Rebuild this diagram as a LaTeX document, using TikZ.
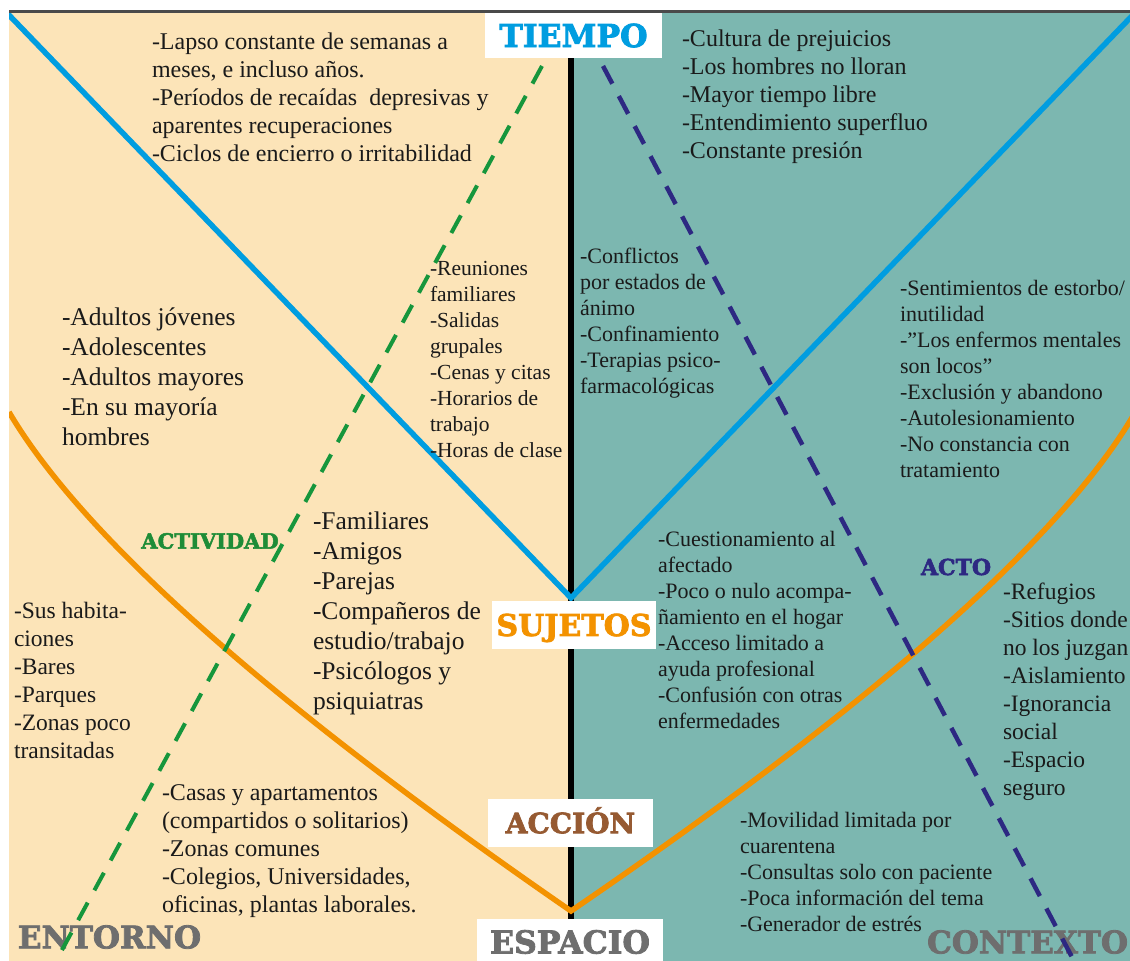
\documentclass[tikz,border=0pt]{standalone}
\usepackage{fontspec}
\setmainfont{Liberation Serif}
\newfontfamily\slabfont{DejaVuSerif-Bold}[Extension=.ttf, FakeBold=2.5]

\definecolor{sand}{HTML}{FCE4B8}
\definecolor{sea}{HTML}{7CB7B0}
\definecolor{skyline}{HTML}{009DE0}
\definecolor{amber}{HTML}{F39200}
\definecolor{leaf}{HTML}{16963C}
\definecolor{leaftxt}{HTML}{1E8C37}
\definecolor{ink}{HTML}{2D2882}
\definecolor{bark}{HTML}{965A32}
\definecolor{ash}{HTML}{6E6E6E}
\definecolor{rule}{HTML}{4A4A4A}
\definecolor{bodytxt}{HTML}{1A1A1A}

\tikzset{
  block/.style={anchor=north west, inner sep=0pt, outer sep=0pt, align=left, text=bodytxt},
  sizeL/.style={font=\fontsize{25.5}{30}\selectfont},
  sizeM/.style={font=\fontsize{24}{28}\selectfont},
  sizeN/.style={font=\fontsize{23.5}{28}\selectfont},
  sizeS/.style={font=\fontsize{22}{26}\selectfont},
  sizeT/.style={font=\fontsize{21.5}{26}\selectfont},
  lbl/.style 2 args={font=\slabfont\fontsize{#1}{#1}\selectfont,
    text height=#2pt, text depth=0pt, inner sep=0pt, outer sep=0pt},
  whitebox/.style 2 args={fill=white, minimum width=#1pt, minimum height=#2pt},
  axisline/.style={line width=5.5pt, black},
  vline/.style={line width=5.5pt, skyline, line join=miter},
  arcline/.style={line width=5.5pt, amber, line join=miter},
  dashline/.style={line width=#1, dash pattern=on 20pt off 14pt},
}

\begin{document}
\begin{tikzpicture}[x=1pt, y=-1pt]
\useasboundingbox (0,0) rectangle (1130,961);
\clip (0,0) rectangle (1130,961);

% two halves of the board
\fill[sand] (9,13) rectangle (571,961);
\fill[sea] (571,13) rectangle (1130,961);
\draw[line width=3pt, rule] (9,11.5) -- (1130,11.5);

\begin{scope}
\clip (9,13) rectangle (1130,961);

% central axis
\coordinate (axTop) at (571,58);
\coordinate (axBot) at (571,975);
\draw[axisline] (axTop) -- (axBot);

% blue V meeting at SUJETOS
\coordinate (vL) at (0,5.7);
\coordinate (vS) at (571,598);
\coordinate (vR) at (1140,7.6);
\draw[vline] (vL) -- (vS) -- (vR);

% orange bowl meeting at ESPACIO
\coordinate (oL) at (9,412);
\coordinate (oS) at (571,911);
\coordinate (oR) at (1133,416);
\draw[arcline] (oL) .. controls (82.3,536.7) and (269.7,703) .. (oS)
               .. controls (872.3,705) and (1059.7,540) .. (oR);

% text blocks
\node[block, sizeM] (b1) at (152,29.4) {\strut -Lapso constante de semanas a\\
meses, e incluso años.\\
-Períodos de recaídas\ \ depresivas y\\
aparentes recuperaciones\\
-Ciclos de encierro o irritabilidad};

\node[block, sizeM] (b2) at (682,26.4) {\strut -Cultura de prejuicios\\
-Los hombres no lloran\\
-Mayor tiempo libre\\
-Entendimiento superfluo\\
-Constante presión};

\node[block, sizeL] (b3) at (62,304.5) {\strut -Adultos jóvenes\\
-Adolescentes\\
-Adultos mayores\\
-En su mayoría\\
hombres};

\node[block, sizeT] (b4) at (430,256.8) {\strut -Reuniones\\
familiares\\
-Salidas\\
grupales\\
-Cenas y citas\\
-Horarios de\\
trabajo\\
-Horas de clase};

\node[block, sizeS] (b5) at (580,244.8) {\strut -Conflictos\\
por estados de\\
ánimo\\
-Confinamiento\\
-Terapias psico-\\
farmacológicas};

\node[block, sizeS] (b6) at (900,276.8) {\strut -Sentimientos de estorbo/\\
inutilidad\\
-”Los enfermos mentales\\
son locos”\\
-Exclusión y abandono\\
-Autolesionamiento\\
-No constancia con\\
tratamiento};

\node[block, sizeL] (b7) at (313,508.5) {\strut -Familiares\\
-Amigos\\
-Parejas\\
-Compañeros de\\
estudio/trabajo\\
-Psicólogos y\\
psiquiatras};

\node[block, sizeN] (b8) at (14,598.4) {\strut -Sus habita-\\
ciones\\
-Bares\\
-Parques\\
-Zonas poco\\
transitadas};

\node[block, sizeS] (b9) at (658,527.8) {\strut -Cuestionamiento al\\
afectado\\
-Poco o nulo acompa-\\
ñamiento en el hogar\\
-Acceso limitado a\\
ayuda profesional\\
-Confusión con otras\\
enfermedades};

\node[block, sizeN] (b10) at (1003,579.4) {\strut -Refugios\\
-Sitios donde\\
no los juzgan\\
-Aislamiento\\
-Ignorancia\\
social\\
-Espacio\\
seguro};

\node[block, sizeM] (b11) at (162,780.4) {\strut -Casas y apartamentos\\
(compartidos o solitarios)\\
-Zonas comunes\\
-Colegios, Universidades,\\
oficinas, plantas laborales.};

\node[block, sizeS] (b12) at (740,808.8) {\strut -Movilidad limitada por\\
cuarentena\\
-Consultas solo con paciente\\
-Poca información del tema\\
-Generador de estrés};

% free-standing titles
\node[lbl={21}{15.3}, text=leaftxt] (actividad) at (210,541) {ACTIVIDAD};
\node[lbl={22}{16.0}, text=ink] (acto) at (956,567) {ACTO};
\node[lbl={31}{22.6}, text=ash] (entorno) at (109.5,937) {ENTORNO};
\node[lbl={31}{22.6}, text=ash, anchor=east] (contexto) at (1128,942) {CONTEXTO};

% dashed diagonals
\coordinate (gTop) at (542,66);
\coordinate (gBot) at (48.4,975);
\coordinate (nTop) at (603,66);
\coordinate (nBot) at (1081.4,975);
\draw[dashline=4pt, leaf] (gTop) -- (gBot);
\draw[dashline=4.5pt, ink] (nTop) -- (nBot);
\end{scope}

% boxed titles on the axis
\node[whitebox={177}{45}, lbl={31.5}{23.0}, text=skyline] (tiempo) at (573.5,35.5) {TIEMPO};
\node[whitebox={164}{48}, lbl={30}{21.9}, text=amber] (sujetos) at (574,625) {SUJETOS};
\node[whitebox={165}{48}, lbl={28}{20.4}, text=bark] (accion) at (570.5,823) {ACCIÓN};
\fill[white] (477,919) rectangle (663,961);
\node[lbl={31.5}{22.9}, text=ash] (espacio) at (570,942) {ESPACIO};
\end{tikzpicture}
\end{document}
